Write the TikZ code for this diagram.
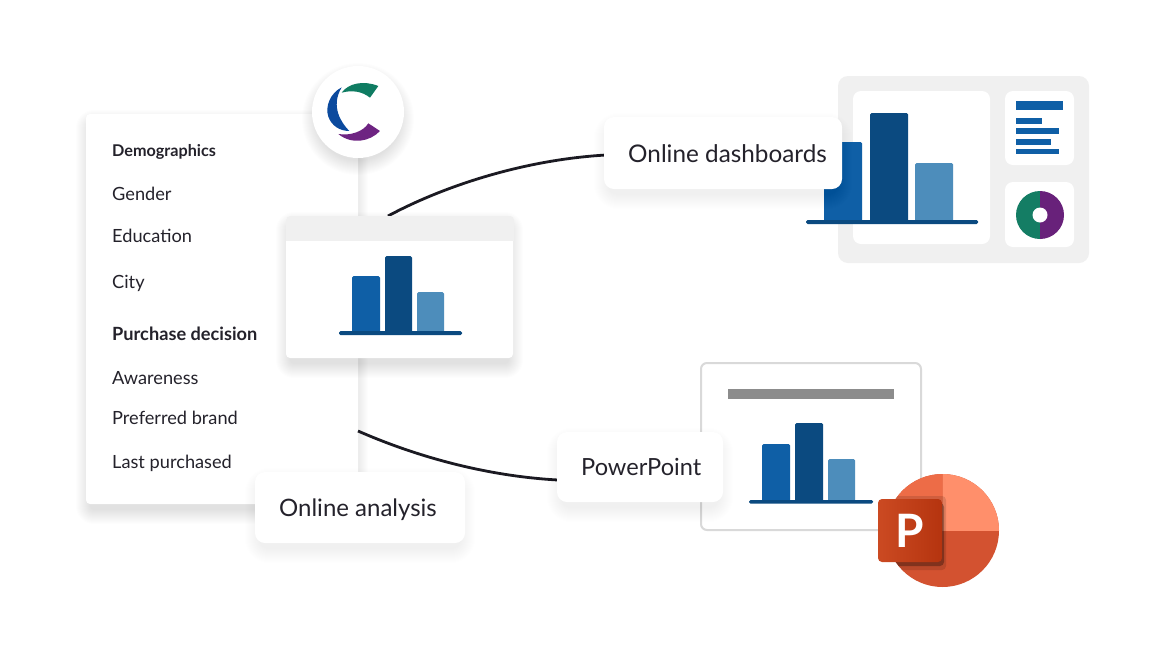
\documentclass[tikz,border=0pt]{standalone}
\usepackage{fontspec}
\setmainfont{Lato}
\definecolor{barA}{HTML}{0F5FA6}
\definecolor{barB}{HTML}{0B4A80}
\definecolor{barC}{HTML}{4D8DBB}
\definecolor{ink}{HTML}{24222B}
\definecolor{line}{HTML}{1B1A22}
\definecolor{soft}{HTML}{F0F0F0}
\definecolor{frame}{HTML}{D9D9D9}
\definecolor{greyb}{HTML}{8C8C8C}
\definecolor{dgreen}{HTML}{147D64}
\definecolor{dpurple}{HTML}{68217A}
\definecolor{lgreen}{HTML}{0F7C62}
\definecolor{lblue}{HTML}{0B4A9E}
\definecolor{lpurple}{HTML}{6E2482}
\definecolor{ppA}{HTML}{ED6C47}
\definecolor{ppB}{HTML}{FF8F6B}
\definecolor{ppC}{HTML}{D35230}
\definecolor{ppD}{HTML}{CB4A22}
\definecolor{ppE}{HTML}{B5340F}
\newcommand{\softshadow}[6]{%
  \foreach \i in {0,1,...,14}{%
    \fill[black,opacity=#6,rounded corners=#5+\i] (#1+4-\i,#2+10-\i) rectangle (#3-4+\i,#4+6+\i);
  }}
\newcommand{\softdisc}[4]{%
  \foreach \i in {0,1,...,14}{%
    \fill[black,opacity=#4] (#1,#2+7) circle[radius=#3-4+\i];
  }}
\tikzset{
  panelitem/.style={anchor=base west,inner sep=0pt,font=\fontsize{18.2}{20}\selectfont,text=ink},
  panelhead/.style={anchor=base west,inner sep=0pt,text=ink},
  callout/.style={fill=white,rounded corners=10pt,inner sep=0pt},
  calltext/.style={anchor=base west,inner sep=0pt,text=ink},
  conn/.style={draw=line,line width=2.8pt},
  card/.style={fill=white,rounded corners=8pt},
  barshape/.style={rounded corners=1.5pt}
}
\begin{document}
\begin{tikzpicture}[x=1pt,y=-1pt]
\useasboundingbox[fill=white] (0,0) rectangle (1170,646);

% dashboard group
\fill[soft,rounded corners=10pt] (838,76) rectangle (1089,263);
\fill[card] (853,91) rectangle (990,244);
\fill[card] (1005,91) rectangle (1074,165);
\fill[card] (1005,182) rectangle (1074,247);
\fill[barA,barshape] (824,142) rectangle (862,222);
\fill[barB,barshape] (870,113) rectangle (908,222);
\fill[barC,barshape] (915,163) rectangle (953,222);
\fill[barB,barshape] (806,220) rectangle (978,224);
\foreach \a/\b/\c in {1063/101/110,1042/118/124,1059/128/134,1051/139/145,1059/149/154}
  \fill[barA] (1016,\b) rectangle (\a,\c);
\begin{scope}
  \clip (1016,185) rectangle (1040,245);
  \fill[dgreen] (1040,215) circle[radius=24];
\end{scope}
\begin{scope}
  \clip (1040,185) rectangle (1064,245);
  \fill[dpurple] (1040,215) circle[radius=24];
\end{scope}
\fill[white] (1040,215) circle[radius=7.5];

% survey panel
\softshadow{86}{114}{358}{504}{4}{0.006}
\node[fill=white,rounded corners=4pt,inner sep=0pt,minimum width=272pt,minimum height=390pt] (panel) at (222,309) {};
\node[panelhead,font=\fontsize{16.2}{18}\selectfont\bfseries] (t1) at (112,156.5) {Demographics};
\node[panelitem] (t2) at (112,200.5) {Gender};
\node[panelitem] (t3) at (112,242.5) {Education};
\node[panelitem] (t4) at (112,288.5) {City};
\node[panelhead,font=\fontsize{18.2}{20}\selectfont\bfseries] (t5) at (112,340.5) {Purchase decision};
\node[panelitem] (t6) at (112,384.5) {Awareness};
\node[panelitem] (t7) at (112,424.5) {Preferred brand};
\node[panelitem] (t8) at (112,468.5) {Last purchased};

% connectors
\coordinate (winTop) at (388,216);
\coordinate (panelEdge) at (358,431);
\coordinate (dashIn) at (606,155);
\coordinate (pptIn) at (558,480);
\draw[conn] (winTop) .. controls (440,188) and (520,160) .. (dashIn);
\draw[conn] (panelEdge) .. controls (415,456) and (485,476) .. (pptIn);

% chart window
\softshadow{286}{216}{513}{358}{4}{0.007}
\node[fill=white,rounded corners=4pt,inner sep=0pt,minimum width=227pt,minimum height=142pt] (win) at (399.5,287) {};
\begin{scope}
  \clip (280,210) rectangle (520,240);
  \fill[soft,rounded corners=4pt] (286,216) rectangle (514,260);
\end{scope}
\fill[barA,barshape] (352,276) rectangle (380,333);
\fill[barB,barshape] (385,256) rectangle (412,333);
\fill[barC,barshape] (417,292) rectangle (444,333);
\fill[barB,barshape] (339,331) rectangle (462,335);

% logo
\softdisc{358}{112}{46}{0.006}
\node[circle,fill=white,inner sep=0pt,minimum size=92pt] (logo) at (358,112) {};
\begin{scope}[shift={(290,50)},x=0.3333pt,y=-0.3333pt]
  \fill[lgreen] (155,128) .. controls (175,100) and (220,90) .. (265,108) -- (240,143) .. controls (215,123) and (185,120) .. cycle;
  \fill[lblue] (155,112) .. controls (120,130) and (105,170) .. (115,200) .. controls (125,228) and (150,243) .. (178,243) .. controls (155,220) and (120,170) .. cycle;
  \fill[lpurple] (145,252) .. controls (180,258) and (220,245) .. (235,220) -- (270,243) .. controls (240,275) and (185,285) .. cycle;
\end{scope}

% slide
\draw[frame,line width=2pt,rounded corners=6pt,fill=white] (701,363) rectangle (921,530);
\fill[greyb] (728,389) rectangle (894,399);
\fill[barA,barshape] (762,444) rectangle (790,502);
\fill[barB,barshape] (795,423) rectangle (823,502);
\fill[barC,barshape] (828,459) rectangle (855,502);
\fill[barB,barshape] (749,500) rectangle (873,503.5);

% PowerPoint icon
\fill[ppC] (942.5,530.5) circle[radius=56.5];
\begin{scope}
  \clip (880,470) rectangle (942.5,530.5);
  \fill[ppA] (942.5,530.5) circle[radius=56.5];
\end{scope}
\begin{scope}
  \clip (942.5,470) rectangle (1002,530.5);
  \fill[ppB] (942.5,530.5) circle[radius=56.5];
\end{scope}
\begin{scope}
  \clip (942.5,530.5) circle[radius=56.5];
  \fill[black,opacity=0.12,rounded corners=4pt] (885,496) rectangle (946,570);
  \fill[black,opacity=0.3,rounded corners=4pt] (884,503) rectangle (944,566);
\end{scope}
\node[rounded corners=4pt,inner sep=0pt,minimum width=64pt,minimum height=63pt,
      left color=ppD,right color=ppE,
      text=white,font=\fontsize{46}{46}\selectfont\bfseries] (picon) at (910,530.5) {P};

% callouts
\softshadow{604}{117}{842}{189}{10}{0.005}
\node[callout,minimum width=238pt,minimum height=72pt] (dashbox) at (723,153) {};
\node[calltext,font=\fontsize{24.3}{27}\selectfont] (dashtext) at (628,162.5) {Online dashboards};
\softshadow{557}{432}{723}{502}{10}{0.005}
\node[callout,minimum width=166pt,minimum height=70pt] (pptbox) at (640,467) {};
\node[calltext,font=\fontsize{23.6}{27}\selectfont] (ppttext) at (581,475.5) {PowerPoint};
\softshadow{255}{472}{465}{543}{10}{0.005}
\node[callout,minimum width=210pt,minimum height=71pt] (anabox) at (360,507.5) {};
\node[calltext,font=\fontsize{24}{27}\selectfont] (anatext) at (279,516.5) {Online analysis};
\end{tikzpicture}
\end{document}
